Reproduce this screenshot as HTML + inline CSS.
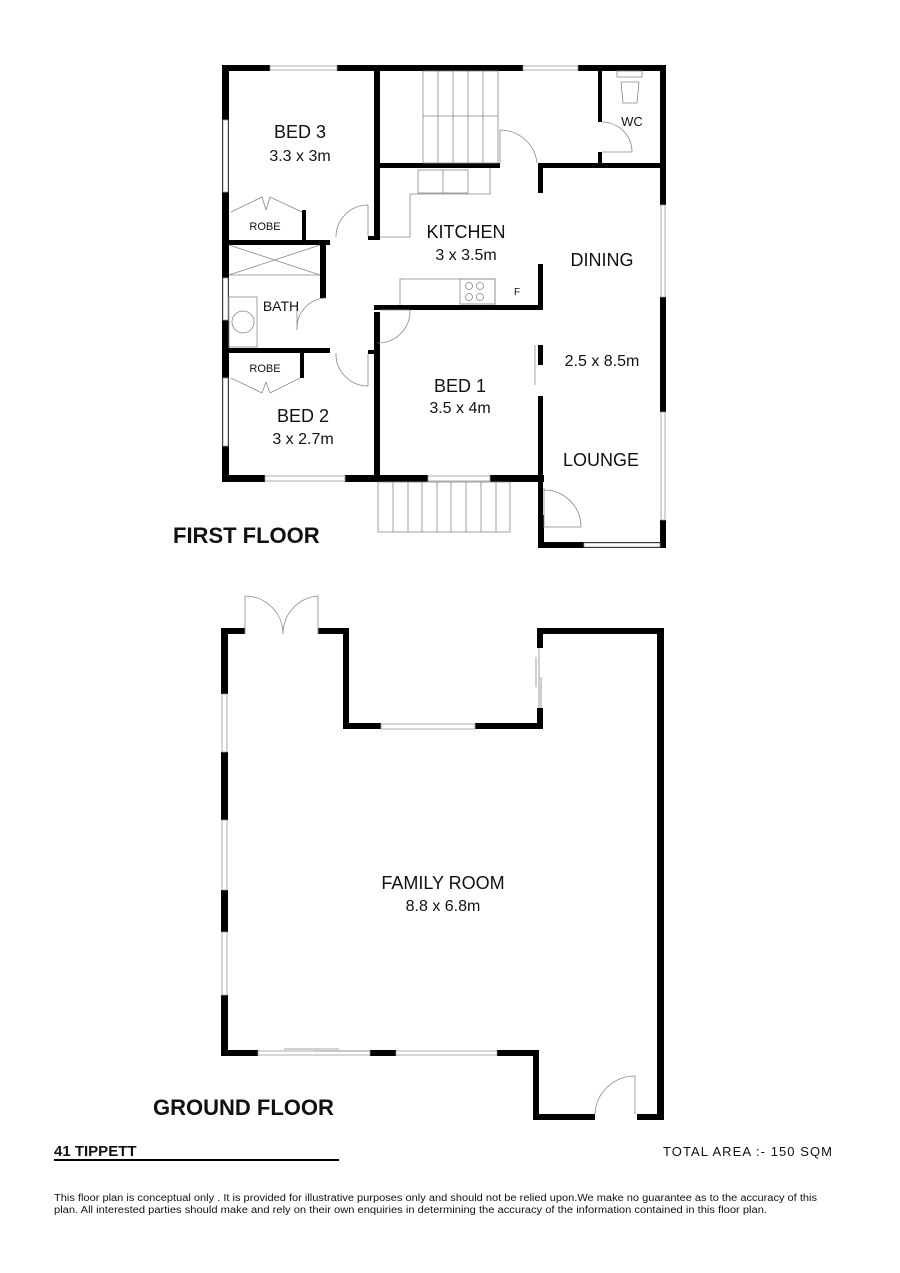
<!DOCTYPE html>
<html><head><meta charset="utf-8"><style>
html,body{margin:0;padding:0;background:#fff}
svg{display:block}
text{font-family:"Liberation Sans",Arial,sans-serif;fill:#111}
</style></head><body>
<svg width="900" height="1273" viewBox="0 0 900 1273" xmlns="http://www.w3.org/2000/svg">
<rect width="900" height="1273" fill="#fff"/>
<g fill="#000">
<rect x="222" y="65" width="7" height="417"/>
<rect x="222" y="65" width="48" height="6"/>
<rect x="337" y="65" width="186" height="6"/>
<rect x="578" y="65" width="88" height="6"/>
<rect x="660" y="65" width="6" height="140"/>
<rect x="660" y="297" width="6" height="115"/>
<rect x="660" y="520" width="6" height="28"/>
<rect x="538" y="542" width="128" height="6"/>
<rect x="538" y="515" width="6" height="33"/>
<rect x="222" y="475" width="43" height="7"/>
<rect x="345" y="475" width="83" height="7"/>
<rect x="490" y="475" width="54" height="7"/>
<rect x="374" y="65" width="6" height="172"/>
<rect x="368" y="236" width="12" height="4"/>
<rect x="374" y="312" width="6" height="170"/>
<rect x="368" y="350" width="12" height="4"/>
<rect x="376" y="163" width="124" height="5"/>
<rect x="538" y="163" width="128" height="5"/>
<rect x="538" y="163" width="5" height="30"/>
<rect x="538" y="264" width="5" height="46"/>
<rect x="538" y="345" width="5" height="20"/>
<rect x="538" y="396" width="5" height="125"/>
<rect x="374" y="305" width="169" height="5"/>
<rect x="598" y="65" width="4" height="57"/>
<rect x="598" y="152" width="4" height="14"/>
<rect x="222" y="240" width="108" height="5"/>
<rect x="302" y="210" width="4" height="35"/>
<rect x="320" y="240" width="6" height="58"/>
<rect x="222" y="348" width="108" height="5"/>
<rect x="300" y="348" width="4" height="30"/>
<rect x="221" y="628" width="24" height="6"/>
<rect x="318" y="628" width="31" height="6"/>
<rect x="343" y="628" width="6" height="101"/>
<rect x="343" y="723" width="38" height="6"/>
<rect x="475" y="723" width="68" height="6"/>
<rect x="537" y="628" width="6" height="20"/>
<rect x="537" y="708" width="6" height="21"/>
<rect x="537" y="628" width="127" height="6"/>
<rect x="657" y="628" width="7" height="492"/>
<rect x="221" y="628" width="7" height="66"/>
<rect x="221" y="752" width="7" height="68"/>
<rect x="221" y="890" width="7" height="42"/>
<rect x="221" y="995" width="7" height="61"/>
<rect x="221" y="1050" width="37" height="6"/>
<rect x="370" y="1050" width="26" height="6"/>
<rect x="497" y="1050" width="42" height="6"/>
<rect x="533" y="1050" width="6" height="70"/>
<rect x="533" y="1114" width="62" height="6"/>
<rect x="637" y="1114" width="27" height="6"/>
</g>
<g fill="#fff" stroke="#999" stroke-width="0.8">
<rect x="223" y="120" width="5" height="72"/>
<rect x="223" y="278" width="5" height="42"/>
<rect x="223" y="378" width="5" height="68"/>
<rect x="270" y="66" width="67" height="4"/>
<rect x="523" y="66" width="55" height="4"/>
<rect x="661" y="205" width="4" height="92"/>
<rect x="661" y="412" width="4" height="108"/>
<rect x="584" y="543" width="76" height="4"/>
<rect x="265" y="476" width="80" height="5"/>
<rect x="428" y="476" width="62" height="5"/>
<rect x="381" y="724" width="94" height="5"/>
<rect x="258" y="1051" width="112" height="4"/>
<rect x="396" y="1051" width="101" height="4"/>
<rect x="222" y="694" width="5" height="58"/>
<rect x="222" y="820" width="5" height="70"/>
<rect x="222" y="932" width="5" height="63"/>
</g>
<g fill="none" stroke="#888" stroke-width="0.8">
<rect x="423" y="71" width="75" height="92"/>
<line x1="423" y1="116" x2="498" y2="116"/>
<line x1="438" y1="71" x2="438" y2="163"/><line x1="453" y1="71" x2="453" y2="163"/><line x1="468" y1="71" x2="468" y2="163"/><line x1="483" y1="71" x2="483" y2="163"/>
<rect x="378" y="482" width="132" height="50"/>
<line x1="393" y1="482" x2="393" y2="532"/><line x1="408" y1="482" x2="408" y2="532"/><line x1="422" y1="482" x2="422" y2="532"/><line x1="437" y1="482" x2="437" y2="532"/><line x1="451" y1="482" x2="451" y2="532"/><line x1="466" y1="482" x2="466" y2="532"/><line x1="481" y1="482" x2="481" y2="532"/><line x1="496" y1="482" x2="496" y2="532"/>
<path d="M500 130 L500 163 M500 130 A37 37 0 0 1 537 163"/>
<path d="M602 152 L632 152 M632 152 A30 30 0 0 0 602 122"/>
<path d="M368 205 L368 236 M368 205 A32 32 0 0 0 336 237"/>
<path d="M297 308 L297 330 M326 298 A30 30 0 0 0 297 328"/>
<path d="M368 354 L368 386 M368 386 A32 32 0 0 1 336 353"/>
<path d="M380 310 L410 310 M410 310 A32 32 0 0 1 378 343"/>
<path d="M544 488 L544 527 L581 527 M544 490 A37 37 0 0 1 581 527"/>
<path d="M535 345 L535 385"/>
<path d="M231 212 L262 197 L266 210 M266 210 L270 197 L302 212"/>
<path d="M231 378 L262 393 L266 382 M266 382 L270 393 L300 378"/>
<path d="M229 245 L320 275 M229 275 L320 245 M229 275 L320 275"/>
<rect x="229" y="297" width="28" height="50"/>
<ellipse cx="243" cy="322" rx="11" ry="11"/>
<path d="M380 237 L410 237 L410 194 L490 194 L490 168"/>
<rect x="418" y="170" width="50" height="23"/>
<line x1="443" y1="170" x2="443" y2="193"/>
<path d="M400 305 L400 279 L495 279 L495 305"/>
<rect x="460" y="279" width="35" height="25"/>
<circle cx="469" cy="286" r="3.5"/><circle cx="480" cy="286" r="3.5"/><circle cx="469" cy="297" r="3.5"/><circle cx="480" cy="297" r="3.5"/>
<rect x="617" y="71" width="25" height="6"/>
<path d="M621 82 L639 82 L637 103 L623 103 Z"/>
<path d="M245 634 L245 596 M245 596 A38 38 0 0 1 283 634 M318 634 L318 596 M318 596 A38 38 0 0 0 283 634"/>
<path d="M539 648 L539 708 M536 657 L536 687 M541 677 L541 708"/>
<path d="M595 1114 A40 40 0 0 1 635 1076 L635 1114"/>
<path d="M284 1049 L339 1049 M314 1051 L370 1051"/>
</g>
<g font-size="18" text-anchor="middle">
<text x="300" y="138">BED 3</text>
<text x="300" y="161" font-size="16">3.3 x 3m</text>
<text x="466" y="238">KITCHEN</text>
<text x="466" y="260" font-size="16">3 x 3.5m</text>
<text x="602" y="266">DINING</text>
<text x="602" y="366" font-size="16">2.5 x 8.5m</text>
<text x="601" y="466">LOUNGE</text>
<text x="460" y="392">BED 1</text>
<text x="460" y="413" font-size="16">3.5 x 4m</text>
<text x="303" y="422">BED 2</text>
<text x="303" y="444" font-size="16">3 x 2.7m</text>
<text x="281" y="311" font-size="14">BATH</text>
<text x="265" y="230" font-size="11">ROBE</text>
<text x="265" y="372" font-size="11">ROBE</text>
<text x="632" y="126" font-size="13">WC</text>
<text x="517" y="295" font-size="10">F</text>
<text x="443" y="889">FAMILY ROOM</text>
<text x="443" y="911" font-size="16">8.8 x 6.8m</text>
</g>
<text x="173" y="543" font-size="22" font-weight="bold">FIRST FLOOR</text>
<text x="153" y="1115" font-size="22" font-weight="bold">GROUND FLOOR</text>
<text x="54" y="1156" font-size="15" font-weight="bold">41 TIPPETT</text>
<rect x="54" y="1159" width="285" height="2" fill="#000"/>
<text x="663" y="1156" font-size="13" textLength="169" lengthAdjust="spacing">TOTAL  AREA  :-  150 SQM</text>
<text x="54" y="1201" font-size="10" textLength="763" lengthAdjust="spacingAndGlyphs">This floor plan  is conceptual only . It is provided for illustrative purposes only and should not be relied upon.We make no guarantee as to the accuracy of this</text>
<text x="54" y="1213" font-size="10" textLength="713" lengthAdjust="spacingAndGlyphs">plan. All interested parties should make and rely on their own enquiries in determining the accuracy of the information contained in this floor plan.</text>
</svg>
</body></html>
